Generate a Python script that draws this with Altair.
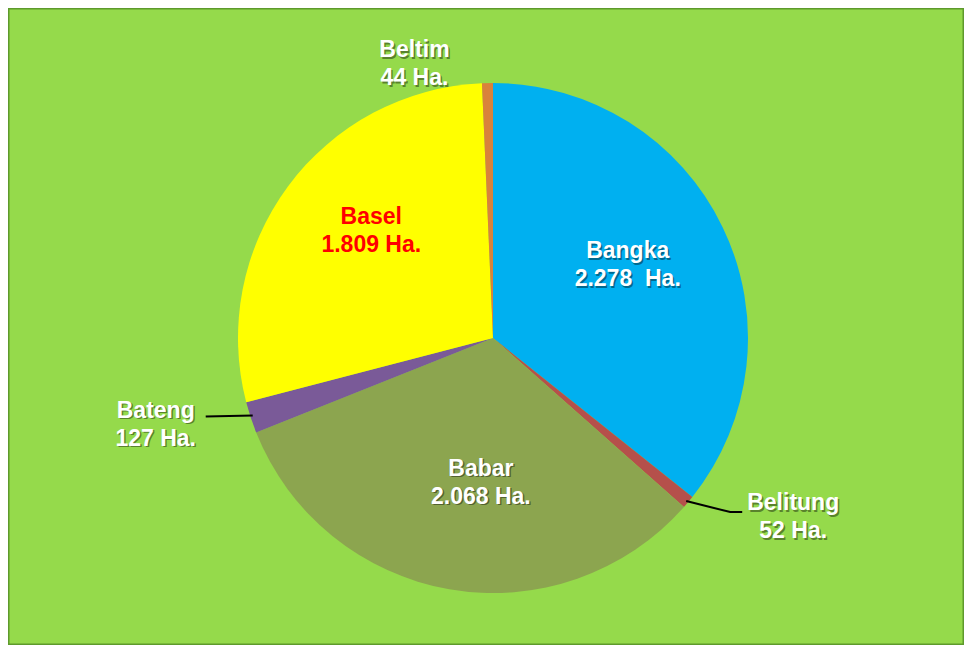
import math
import altair as alt
import pandas as pd

categories = ["Bangka", "Belitung", "Babar", "Bateng", "Basel", "Beltim"]
values = [2278, 52, 2068, 127, 1809, 44]
value_labels = ["2.278\u00a0 Ha.", "52 Ha.", "2.068 Ha.", "127 Ha.", "1.809 Ha.", "44 Ha."]
colors = ["#00B0F0", "#B5504B", "#8CA54F", "#7A5A98", "#FFFF00", "#D9823B"]
label_colors = ["white", "white", "white", "white", "#FF0000", "white"]

W, H = 956, 637
CX, CY, R = 485, 330, 255
FS, LH = 23, 28

df = pd.DataFrame({"category": categories, "value": values, "vlabel": value_labels,
                   "lcolor": label_colors, "idx": list(range(len(categories)))})
total = sum(values)
cum = 0
mids = []
for v in values:
    mids.append((cum + v / 2) / total * 2 * math.pi)
    cum += v
df["mid"] = mids
df["label"] = [c + "\n" + l for c, l in zip(categories, value_labels)]

# label placement: inside labels (radius fraction, angle nudge in degrees)
inside = {"Bangka": (0.6, -2.6), "Babar": (0.57, -5.1), "Basel": (0.635, 4.8)}
lx, ly = [], []
for c, m in zip(categories, mids):
    ex, ey = CX + R * math.sin(m), CY - R * math.cos(m)
    if c in inside:
        f, da = inside[c]
        a = m + math.radians(da)
        r = f * R
        cx_, cy_ = CX + r * math.sin(a), CY - r * math.cos(a)
    elif c == "Beltim":
        cx_, cy_ = ex - 73, ey - 19
    elif c == "Bateng":
        cx_, cy_ = ex - 95, ey + 7
    else:
        cx_, cy_ = ex + 105, ey + 15
    lx.append(cx_)
    ly.append(cy_ - LH / 2)  # first line sits half a line above the block centre
df["lx"] = lx
df["ly"] = ly

# leader lines for the small outer slices
lines = []
for c, m in zip(categories, mids):
    ex, ey = CX + R * math.sin(m), CY - R * math.cos(m)
    if c == "Belitung":
        pts = [(ex - 2, ey - 1), (ex + 42, ey + 10), (ex + 54, ey + 10)]
    elif c == "Bateng":
        pts = [(ex + 2, ey - 2), (ex - 45, ey - 1)]
    else:
        continue
    for i, (px, py) in enumerate(pts):
        lines.append({"category": c, "o": i, "px": px, "py": py})
ldf = pd.DataFrame(lines)

pie = alt.Chart(df).mark_arc(outerRadius=R).encode(
    theta=alt.Theta("value:Q", stack=True),
    color=alt.Color("category:N", scale=alt.Scale(domain=categories, range=colors), legend=None),
    order=alt.Order("idx:Q"),
    x=alt.value(CX),
    y=alt.value(CY),
)

leaders = alt.Chart(ldf).mark_line(color="black", strokeWidth=2).encode(
    x=alt.X("px:Q", scale=None),
    y=alt.Y("py:Q", scale=None),
    detail="category:N",
    order="o:Q",
)

shadow = alt.Chart(df[df["lcolor"] == "white"]).mark_text(
    font="Liberation Sans", fontWeight="bold", fontSize=FS, lineHeight=LH,
    lineBreak="\n", color="black", opacity=0.4, dx=1.5, dy=1.5,
).encode(
    x=alt.X("lx:Q", scale=None), y=alt.Y("ly:Q", scale=None), text="label:N"
)

labels = alt.Chart(df).mark_text(
    font="Liberation Sans", fontWeight="bold", fontSize=FS, lineHeight=LH, lineBreak="\n",
).encode(
    x=alt.X("lx:Q", scale=None), y=alt.Y("ly:Q", scale=None), text="label:N",
    color=alt.Color("lcolor:N", scale=None),
)

chart = alt.layer(pie, leaders, shadow, labels).properties(
    width=W, height=H, padding=0, autosize="none", background="#95DA4B"
).configure_view(stroke="#5E9A2C", strokeWidth=3)

chart.save("out.html", embed_options={"renderer": "svg", "actions": False})
